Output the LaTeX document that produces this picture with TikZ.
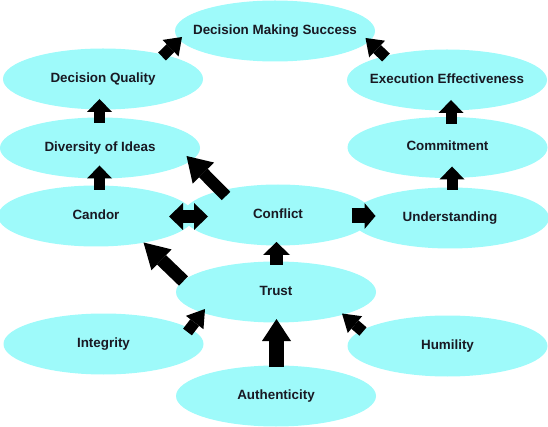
\documentclass[tikz,border=0pt]{standalone}
\usepackage{fontspec}
\setmainfont{Liberation Sans}
\usetikzlibrary{shapes.geometric,arrows.meta}
\definecolor{bub}{RGB}{158,250,250}
\definecolor{ink}{RGB}{25,25,35}
\begin{document}
\begin{tikzpicture}[x=1pt,y=-1pt,
  bubble/.style={ellipse, fill=bub, inner sep=0pt, minimum width=200pt, minimum height=61pt},
  txt/.style={font=\bfseries\fontsize{13.4}{15}\selectfont, text=ink, text height=9.5pt, text depth=0pt, inner sep=0pt, yshift=1.5pt},
  blockarrow/.style n args={3}{draw=black, line width=#1pt, line cap=butt,
     -{Triangle[width=#2pt, length=#3pt, line width=0pt]}},
  twoway/.style n args={3}{draw=black, line width=#1pt, line cap=butt,
     {Triangle[width=#2pt, length=#3pt, line width=0pt]}-{Triangle[width=#2pt, length=#3pt, line width=0pt]}}]
\useasboundingbox (0,0) rectangle (548,427);
% bubbles
\node[bubble, label={[txt]center:Decision Making Success}] (dms) at (275,31) {};
\node[bubble, label={[txt]center:Decision Quality}] (dq) at (103,79) {};
\node[bubble, label={[txt]center:Execution Effectiveness}] (ee) at (447,80) {};
\node[bubble, label={[txt]center:Diversity of Ideas}] (doi) at (100,148) {};
\node[bubble, label={[txt]center:Commitment}] (comm) at (447.5,147.5) {};
\node[bubble, minimum width=196pt, label={[txt]center:Candor}] (candor) at (96,216) {};
\node[bubble, minimum width=190pt, label={[txt]center:Conflict}] (conflict) at (278,215) {};
\node[bubble, minimum width=198pt, label={[txt]center:Understanding}] (und) at (450,218) {};
\node[bubble, label={[txt]center:Trust}] (trust) at (276,292) {};
\node[bubble, label={[txt]center:Integrity}] (integ) at (103.5,344) {};
\node[bubble, label={[txt]center:Humility}] (hum) at (447.5,346) {};
\node[bubble, label={[txt]center:Authenticity}] (auth) at (276,396) {};
% arrow end points
\coordinate (dq-out)    at (162,56.5);  \coordinate (dms-inl)   at (182,37);
\coordinate (ee-out)    at (386,57.5);  \coordinate (dms-inr)   at (365.5,38);
\coordinate (doi-out)   at (99.5,123);  \coordinate (dq-in)     at (99.5,99);
\coordinate (comm-out)  at (451,124);   \coordinate (ee-in)     at (451,100);
\coordinate (candor-out) at (99.5,190); \coordinate (doi-in)    at (99.5,165.5);
\coordinate (und-out)   at (452,190);   \coordinate (comm-in)   at (452,166.5);
\coordinate (conf-out)  at (226,196);   \coordinate (doi-ins)   at (186.5,156);
\coordinate (candor-end) at (169,216.5); \coordinate (conf-end) at (208,216.5);
\coordinate (conf-outr) at (351.5,216); \coordinate (und-in)    at (375.5,216);
\coordinate (trust-out) at (276.5,265); \coordinate (conf-in)   at (276.5,242);
\coordinate (trust-outl) at (183.5,281); \coordinate (candor-in) at (143.5,242.5);
\coordinate (integ-out) at (187.5,332); \coordinate (trust-inl) at (205,309);
\coordinate (auth-out)  at (276.5,367); \coordinate (trust-in)  at (276.5,319);
\coordinate (hum-out)   at (363,331.5); \coordinate (trust-inr) at (342,313.5);
% connectors
\draw[blockarrow={11}{23}{16}] (dq-out) -- (dms-inl);
\draw[blockarrow={11}{23}{16}] (ee-out) -- (dms-inr);
\draw[blockarrow={11}{25}{13}] (doi-out) -- (dq-in);
\draw[blockarrow={11}{25}{13}] (comm-out) -- (ee-in);
\draw[blockarrow={11}{25}{13}] (candor-out) -- (doi-in);
\draw[blockarrow={11}{25}{13}] (und-out) -- (comm-in);
\draw[blockarrow={12}{30}{24}] (conf-out) -- (doi-ins);
\draw[twoway={13}{27}{14}] (candor-end) -- (conf-end);
\draw[blockarrow={15}{26}{11}] (conf-outr) -- (und-in);
\draw[blockarrow={13}{27}{13}] (trust-out) -- (conf-in);
\draw[blockarrow={13}{29}{25}] (trust-outl) -- (candor-in);
\draw[blockarrow={11}{22}{17}] (integ-out) -- (trust-inl);
\draw[blockarrow={15}{29}{22}] (auth-out) -- (trust-in);
\draw[blockarrow={11}{22}{17}] (hum-out) -- (trust-inr);
\end{tikzpicture}
\end{document}
